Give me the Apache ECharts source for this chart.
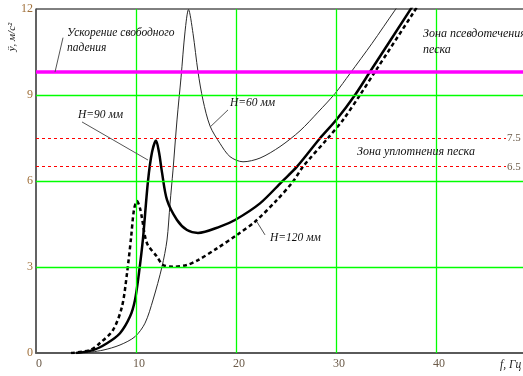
<!DOCTYPE html>
<html><head><meta charset="utf-8">
<script src="https://cdn.jsdelivr.net/npm/echarts@6/dist/echarts.min.js"></script>
<style>html,body{margin:0;padding:0;background:#fff}#c{width:523px;height:376px}</style>
</head><body><div id="c"></div>
<script>
// Frequency f, Гц and acceleration ÿ, м/с²
const fH60 = [4.8, 6.7, 8.4, 9.9, 10.9, 11.7, 12.6, 13.1, 13.4, 13.7, 14.1, 14.5, 14.9, 15.25, 15.7, 16.2, 16.7, 17.4, 18.4, 19.4, 20.7, 22.4, 24.4, 26.4, 28.2, 29.9, 31.4, 33.6, 35.9, 37.0];
const aH60 = [0, 0.1, 0.28, 0.57, 1.04, 1.85, 3.01, 3.94, 5.2, 6.38, 8.13, 9.6, 11.2, 11.98, 11.15, 9.81, 8.82, 7.92, 7.31, 6.85, 6.67, 6.8, 7.2, 7.75, 8.4, 9.05, 9.75, 10.8, 11.96, 12.5];

const fH90 = [4.0, 5.7, 7.1, 8.4, 9.4, 9.9, 10.3, 10.7, 11.2, 11.6, 12.0, 12.3, 12.6, 13.1, 14.1, 15.1, 16.2, 18.4, 19.9, 22.4, 24.6, 26.1, 28.4, 30.1, 31.9, 33.4, 37.4, 38.5];
const aH90 = [0, 0.1, 0.34, 0.69, 1.27, 1.85, 2.8, 4.0, 6.0, 7.0, 7.41, 7.0, 6.3, 5.34, 4.64, 4.29, 4.19, 4.41, 4.64, 5.22, 5.98, 6.5, 7.49, 8.16, 9.0, 9.81, 11.96, 12.55];

const fH120 = [3.5, 5.4, 6.4, 7.7, 8.6, 9.1, 9.5, 9.8, 10.1, 10.4, 10.6, 11.1, 12.1, 12.7, 13.7, 15.1, 16.2, 18.1, 20.1, 21.9, 24.1, 25.7, 26.7, 29.2, 30.7, 32.4, 33.9, 37.7, 38.6];
const aH120 = [0, 0.1, 0.35, 0.8, 1.62, 2.78, 4.0, 5.0, 5.3, 5.05, 4.7, 3.83, 3.36, 3.07, 3.01, 3.07, 3.24, 3.65, 4.12, 4.58, 5.34, 5.98, 6.5, 7.5, 8.13, 9.0, 9.81, 11.85, 12.35];

const xTicks = [0, 10, 20, 30, 40];
const yTicks = [0, 3, 6, 9, 12];
const xGrid = [10, 20, 30, 40];
const yGrid = [3, 6, 9];
const gLevel = 9.8;
const zoneLevels = [7.5, 6.5];
const zoneLabels = ['7.5', '6.5'];

const zip = (xs, ys) => xs.map((x, i) => [x, ys[i]]);
const serif = '"Liberation Serif", "DejaVu Serif", serif';
const green = { color: '#00ff00', width: 1.3, type: 'solid', opacity: 1 };
const leader = { color: '#555', width: 1, type: 'solid' };

const gridLines = xGrid.map(v => ({ xAxis: v, lineStyle: green, label: { show: false } }))
  .concat(yGrid.map(v => ({ yAxis: v, lineStyle: green, label: { show: false } })));

const chart = echarts.init(document.getElementById('c'));
chart.setOption({
  animation: false,
  backgroundColor: '#fff',
  grid: { left: 36, top: 9, width: 500, height: 344, outerBoundsMode: 'none', containLabel: false,
    show: true, borderColor: '#000', borderWidth: 1, backgroundColor: 'transparent' },
  xAxis: {
    type: 'value', min: 0, max: 50, interval: 10,
    axisLine: { show: true, lineStyle: { color: '#5a5a5a', width: 2 } },
    axisTick: { show: false },
    splitLine: { show: false },
    axisLabel: { color: '#6b5a48', fontSize: 12, fontFamily: '"Liberation Serif", serif', margin: 5, padding: [0, 0, 0, 6],
      formatter: v => (xTicks.indexOf(v) >= 0 ? String(v) : '') }
  },
  yAxis: {
    type: 'value', min: 0, max: 12, interval: 3,
    axisLine: { show: true, lineStyle: { color: '#5a5a5a', width: 1.5 } },
    axisTick: { show: false },
    splitLine: { show: false },
    axisLabel: { color: '#a0703a', fontSize: 12, fontFamily: '"Liberation Serif", serif', margin: 3,
      formatter: v => (yTicks.indexOf(v) >= 0 ? String(v) : '') }
  },
  series: [
    { name: 'grid', type: 'line', data: [], z: 1, silent: true,
      markLine: { silent: true, symbol: 'none', animation: false, data: gridLines } },
    { name: 'H=60', type: 'line', data: zip(fH60, aH60), showSymbol: false, smooth: 0.3, clip: true,
      lineStyle: { color: '#2a2a2a', width: 1 }, z: 3 },
    { name: 'H=90', type: 'line', data: zip(fH90, aH90), showSymbol: false, smooth: 0.3, clip: true,
      lineStyle: { color: '#000', width: 2.5 }, z: 3 },
    { name: 'H=120', type: 'line', data: zip(fH120, aH120), showSymbol: false, smooth: 0.3, clip: true,
      lineStyle: { color: '#000', width: 2.5, type: [4, 3] }, z: 3 },
    { name: 'ref', type: 'line', data: [], z: 4, silent: true,
      markLine: {
        silent: true, symbol: 'none', animation: false,
        data: [
          { yAxis: gLevel, lineStyle: { color: '#ff00ff', width: 3.5, type: 'solid' }, label: { show: false } },
          [ { coord: [0, zoneLevels[0]], lineStyle: { color: '#ff0000', width: 1, type: [3, 3] },
              label: { show: true, position: 'end', formatter: zoneLabels[0], color: '#6b5a48', fontSize: 11, fontFamily: serif, distance: 1 } },
            { coord: [47, zoneLevels[0]] } ],
          [ { coord: [0, zoneLevels[1]], lineStyle: { color: '#ff0000', width: 1, type: [3, 3] },
              label: { show: true, position: 'end', formatter: zoneLabels[1], color: '#6b5a48', fontSize: 11, fontFamily: serif, distance: 1 } },
            { coord: [47, zoneLevels[1]] } ],
          [ { coord: [2.7, 11.0], lineStyle: leader, label: { show: false } }, { coord: [1.9, 9.8] } ],
          [ { coord: [4.6, 8.06], lineStyle: leader, label: { show: false } }, { coord: [11.2, 6.73] } ],
          [ { coord: [19.2, 8.48], lineStyle: leader, label: { show: false } }, { coord: [17.4, 7.88] } ],
          [ { coord: [22.9, 4.12], lineStyle: leader, label: { show: false } }, { coord: [22.1, 4.57] } ]
        ]
      }
    }
  ],
  graphic: [
    { type: 'text', left: 67, top: 27, style: { text: 'Ускорение свободного', font: 'italic 11.5px ' + serif, fill: '#111' }, z: 10 },
    { type: 'text', left: 67, top: 42, style: { text: 'падения', font: 'italic 11.5px ' + serif, fill: '#111' }, z: 10 },
    { type: 'text', left: 423, top: 28, style: { text: 'Зона псевдотечения', font: 'italic 12px ' + serif, fill: '#111' }, z: 10 },
    { type: 'text', left: 423, top: 44, style: { text: 'песка', font: 'italic 12px ' + serif, fill: '#111' }, z: 10 },
    { type: 'text', left: 357, top: 146, style: { text: 'Зона уплотнения песка', font: 'italic 12px ' + serif, fill: '#111' }, z: 10 },
    { type: 'text', left: 78, top: 109, style: { text: 'H=90 мм', font: 'italic 11.5px ' + serif, fill: '#111' }, z: 10 },
    { type: 'text', left: 230, top: 97, style: { text: 'H=60 мм', font: 'italic 11.5px ' + serif, fill: '#111' }, z: 10 },
    { type: 'text', left: 270, top: 232, style: { text: 'H=120 мм', font: 'italic 11.5px ' + serif, fill: '#111' }, z: 10 },
    { type: 'text', left: 500, top: 359, style: { text: 'f, Гц', font: 'italic 11.5px ' + serif, fill: '#222' }, z: 10 },
    { type: 'text', x: 12, y: 37, rotation: Math.PI / 2,
      style: { text: 'ÿ, м/с²', font: 'italic 11px ' + serif, fill: '#222', align: 'center', verticalAlign: 'middle' }, z: 10 }
  ]
});
</script>
</body></html>
